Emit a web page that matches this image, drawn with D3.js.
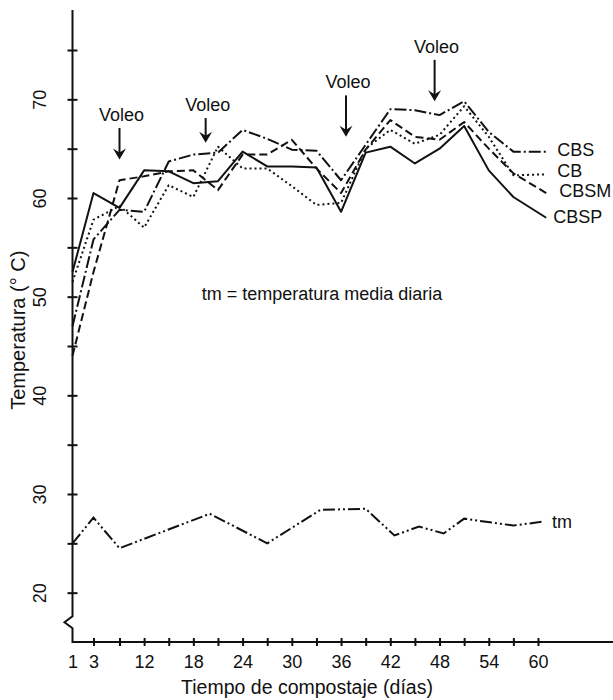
<!DOCTYPE html>
<html>
<head>
<meta charset="utf-8">
<script src="https://cdn.jsdelivr.net/npm/d3@7"></script>
<style>
  body { margin: 0; background: #fff; }
  text { font-family: "Liberation Sans", Arial, sans-serif; fill: #111; }
</style>
</head>
<body>
<div id="chart"></div>
<script>
// sampling days (x) and pile temperatures in °C
const days = [1, 3, 9, 12, 15, 18, 21, 24, 27, 30, 33, 36, 39, 42, 45, 48, 51, 54, 57, 61];
const cbs  = [47.0, 55.8, 58.8, 58.6, 63.7, 64.4, 64.6, 66.9, 66.0, 64.9, 64.8, 61.8, 65.4, 69.0, 68.9, 68.4, 69.8, 66.7, 64.7, 64.7];
const cb   = [51.5, 57.8, 59.2, 57.0, 61.3, 60.1, 65.2, 63.0, 63.0, 61.2, 59.3, 59.5, 65.0, 66.9, 65.5, 66.4, 69.3, 66.2, 62.3, 62.4];
const cbsm = [44.0, 52.5, 61.8, 62.2, 62.7, 62.8, 60.8, 64.4, 64.4, 65.9, 63.0, 60.5, 64.9, 67.9, 66.2, 65.9, 67.7, 65.0, 62.5, 60.5];
const cbsp = [52.5, 60.5, 59.0, 62.8, 62.7, 61.5, 61.7, 64.7, 63.2, 63.2, 63.1, 58.6, 64.6, 65.2, 63.5, 65.0, 67.3, 62.8, 60.1, 58.0];

// daily mean air temperature (tm)
const tmDays   = [1, 3, 9, 20, 27, 33.5, 39, 42.5, 45.5, 48.5, 51, 57, 60.6];
const tmValues = [25.0, 27.6, 24.5, 28.0, 25.0, 28.4, 28.5, 25.8, 26.7, 26.0, 27.5, 26.8, 27.2];

// turning events ("Voleo"): day, arrow top and arrow tip in °C
const voleoDays = [9, 19.5, 36.6, 47.4];
const voleoTop  = [67.1, 68.1, 70.4, 74.0];
const voleoTip  = [63.9, 65.6, 66.2, 69.8];

// axis ticks and labels
const xTicks  = [1, 3, 9, 12, 15, 18, 21, 24, 27, 30, 33, 36, 39, 42, 45, 48, 51, 54, 57, 60];
const xLabels = [1, 3, 12, 18, 24, 30, 36, 42, 48, 54, 60];
const yTicks  = [20, 25, 30, 35, 40, 45, 50, 55, 60, 65, 70, 75];
const yLabels = [20, 30, 40, 50, 60, 70];

const series = [
    { name: "CBS",  values: cbs,  dash: "12,3,2,3", dx: 11, dy: -2 },
    { name: "CB",   values: cb,   dash: "2,3",      dx: 11, dy: -4 },
    { name: "CBSM", values: cbsm, dash: "8,4",      dx: 13, dy: -2 },
    { name: "CBSP", values: cbsp, dash: null,       dx: 7,  dy: -1 }
];

const width = 613, height = 700;
const svg = d3.select("#chart").append("svg")
    .attr("width", width)
    .attr("height", height);

// the day axis is compressed over the first week
const x = d3.scaleLinear()
    .domain([1, 3, 9, 60])
    .range([72.5, 93.5, 119.5, 538]);

const y = d3.scaleLinear()
    .domain([15, 75])
    .range([642, 50]);

const ink = "#111";
const labelSize = "18px", titleSize = "19.5px";
const x0 = x(1), yBase = y(15);

// y axis line with the scale break near the bottom
const axisPath = d3.path();
axisPath.moveTo(x0, 10);
axisPath.lineTo(x0, y(17.6));
axisPath.lineTo(x0 - 8, y(17.0));
axisPath.lineTo(x0, y(16.4));
axisPath.lineTo(x0, yBase);
axisPath.lineTo(width, yBase);
svg.append("path")
    .attr("d", axisPath.toString())
    .attr("fill", "none")
    .attr("stroke", ink)
    .attr("stroke-width", 2);

// y ticks: crosses on the axis, labels turned on their side
const yAxis = svg.append("g")
    .attr("transform", `translate(${x0},0)`)
    .call(d3.axisLeft(y)
        .tickValues(yTicks)
        .tickSize(5)
        .tickPadding(0)
        .tickFormat(d => yLabels.includes(d) ? d : ""));
yAxis.select(".domain").remove();
yAxis.selectAll(".tick line")
    .attr("x1", 5).attr("x2", -5)
    .attr("stroke", ink).attr("stroke-width", 2);
yAxis.selectAll(".tick text")
    .attr("transform", "rotate(-90)")
    .attr("x", 0)
    .attr("y", -33)
    .attr("dy", "0.36em")
    .attr("text-anchor", "middle")
    .attr("fill", ink)
    .style("font-size", labelSize);

// x ticks
const xAxis = svg.append("g")
    .attr("transform", `translate(0,${yBase})`)
    .call(d3.axisBottom(x)
        .tickValues(xTicks)
        .tickSize(4)
        .tickPadding(9)
        .tickFormat(d => xLabels.includes(d) ? d : ""));
xAxis.select(".domain").remove();
xAxis.selectAll(".tick line")
    .attr("y1", d => d === 1 ? 0 : -4)
    .attr("y2", d => d === 1 ? 0 : 4)
    .attr("stroke", ink).attr("stroke-width", 2);
xAxis.selectAll(".tick text")
    .attr("fill", ink)
    .style("font-size", labelSize);

// axis titles
svg.append("text")
    .attr("x", 307)
    .attr("y", 694)
    .attr("text-anchor", "middle")
    .style("font-size", titleSize)
    .text("Tiempo de compostaje (días)");

svg.append("text")
    .attr("transform", `translate(25,${y(46.6)}) rotate(-90)`)
    .attr("text-anchor", "middle")
    .style("font-size", "20px")
    .text("Temperatura (° C)");

// compost pile series
const line = d3.line()
    .x(d => x(d.day))
    .y(d => y(d.value));

series.forEach(s => {
    const pts = days.map((day, i) => ({ day, value: s.values[i] }));
    svg.append("path")
        .datum(pts)
        .attr("fill", "none")
        .attr("stroke", ink)
        .attr("stroke-width", 2)
        .attr("stroke-linejoin", "round")
        .attr("stroke-dasharray", s.dash)
        .attr("d", line);
    const last = pts[pts.length - 1];
    svg.append("text")
        .attr("x", x(last.day) + s.dx)
        .attr("y", y(last.value) + s.dy)
        .attr("dy", "0.35em")
        .style("font-size", labelSize)
        .text(s.name);
});

// tm series
const tmPts = tmDays.map((day, i) => ({ day, value: tmValues[i] }));
svg.append("path")
    .datum(tmPts)
    .attr("fill", "none")
    .attr("stroke", ink)
    .attr("stroke-width", 2)
    .attr("stroke-dasharray", "12,3,2,3,2,3")
    .attr("d", line);
const tmLast = tmPts[tmPts.length - 1];
svg.append("text")
    .attr("x", x(tmLast.day) + 9)
    .attr("y", y(tmLast.value))
    .attr("dy", "0.35em")
    .style("font-size", labelSize)
    .text("tm");

svg.append("text")
    .attr("x", 322)
    .attr("y", y(50.3))
    .attr("dy", "0.35em")
    .attr("text-anchor", "middle")
    .style("font-size", labelSize)
    .text("tm = temperatura media diaria");

// "Voleo" arrows
voleoDays.forEach((day, i) => {
    const ax = x(day), top = y(voleoTop[i]), tip = y(voleoTip[i]);
    svg.append("line")
        .attr("x1", ax).attr("x2", ax)
        .attr("y1", top).attr("y2", tip - 6)
        .attr("stroke", ink)
        .attr("stroke-width", 2);
    svg.append("path")
        .attr("d", `M${ax},${tip} L${ax - 6.5},${tip - 11} L${ax},${tip - 7} L${ax + 6.5},${tip - 11} Z`)
        .attr("fill", ink);
    svg.append("text")
        .attr("x", ax + 2)
        .attr("y", top - 7)
        .attr("text-anchor", "middle")
        .style("font-size", labelSize)
        .text("Voleo");
});
</script>
</body>
</html>
